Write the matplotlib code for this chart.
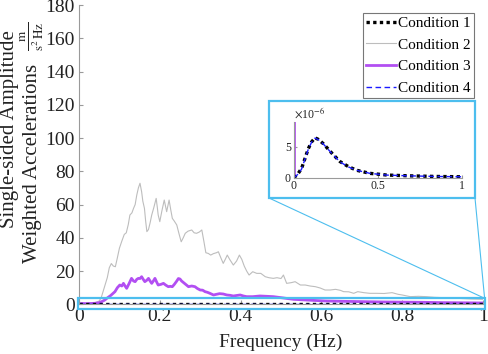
import matplotlib
matplotlib.use("Agg")
import matplotlib.pyplot as plt
from matplotlib.lines import Line2D
from matplotlib.patches import Rectangle
import numpy as np

plt.rcParams['font.family'] = ['Liberation Serif', 'DejaVu Serif']
plt.rcParams['mathtext.fontset'] = 'stix'

# ---------------- data ----------------
cond2_f = [0, 0.01, 0.02, 0.03, 0.04, 0.05, 0.055, 0.06, 0.065, 0.07, 0.075, 0.08, 0.085, 0.09, 0.095,
           0.10, 0.106, 0.112, 0.117, 0.122, 0.126, 0.131, 0.135, 0.139, 0.143, 0.147, 0.151, 0.155,
           0.158, 0.162, 0.165, 0.168, 0.172, 0.176, 0.18, 0.185, 0.191, 0.194, 0.196, 0.2, 0.205,
           0.211, 0.217, 0.223, 0.227, 0.231, 0.236, 0.242, 0.248, 0.253, 0.258, 0.263, 0.27, 0.279,
           0.285, 0.291, 0.298, 0.304, 0.309, 0.314, 0.32, 0.326, 0.333, 0.34, 0.345, 0.351, 0.357,
           0.362, 0.367, 0.373, 0.382, 0.39, 0.397, 0.403, 0.409, 0.415, 0.421, 0.43, 0.44, 0.45,
           0.461, 0.47, 0.481, 0.49, 0.5, 0.506, 0.514, 0.525, 0.535, 0.548, 0.56, 0.572, 0.585,
           0.597, 0.609, 0.622, 0.635, 0.647, 0.655, 0.668, 0.68, 0.69, 0.705, 0.72, 0.737, 0.755,
           0.775, 0.79, 0.8, 0.82, 0.84, 0.86, 0.88, 0.9, 0.92, 0.945, 0.97, 1.0]
cond2_v = [0, 0.3, 0.5, 0.7, 1.0, 2.0, 4, 8, 12, 16, 22, 24.5, 23, 22.6, 28,
           33.7, 38, 42, 43, 48, 53.7, 55, 57.7, 60, 65.7, 70, 72.8, 67.7,
           62, 57.7, 50, 43.7, 45, 49, 53.7, 58, 63.7, 58, 53.7, 49.7, 56,
           62.7, 55.7, 62.7, 57, 51.7, 50, 47.7, 42, 37.6, 40, 42.7, 44, 44.7,
           43, 42.7, 43.5, 44.7, 38, 31, 30.6, 29.6, 30.5, 31, 31.6, 28, 24.6,
           27, 29.6, 27, 23.6, 26, 29.6, 27, 23, 20, 17.6, 19.6, 18.6, 18.6,
           16.6, 16, 15.6, 16, 15.5, 17.6, 12.6, 13, 13.6, 11.6, 11.6, 11, 10.6,
           9.8, 8.6, 8.6, 9, 8.4, 7.6, 7.5, 6.6, 7.6, 7, 6.6, 6.6, 6.5,
           7, 6, 5.6, 4.6, 4.8, 4.6, 4.2, 4, 3.8, 3.5, 3.2, 3]

cond3_f = [0, 0.005, 0.02, 0.04, 0.05, 0.058, 0.064, 0.07, 0.078, 0.084, 0.089, 0.095, 0.101, 0.106,
           0.11, 0.114, 0.118, 0.124, 0.13, 0.135, 0.139, 0.143, 0.147, 0.151, 0.155, 0.159, 0.163,
           0.168, 0.172, 0.176, 0.18, 0.184, 0.188, 0.192, 0.196, 0.203, 0.209, 0.215, 0.221, 0.226,
           0.231, 0.236, 0.242, 0.246, 0.25, 0.254, 0.258, 0.264, 0.271, 0.279, 0.287, 0.293, 0.3,
           0.306, 0.312, 0.318, 0.324, 0.333, 0.34, 0.348, 0.357, 0.366, 0.374, 0.382, 0.39, 0.399,
           0.407, 0.415, 0.43, 0.448, 0.465, 0.481, 0.5, 0.515, 0.531, 0.56, 0.585, 0.61, 0.65,
           0.7, 0.75, 0.8, 0.85, 0.9, 0.95, 1.0]
cond3_v = [0, 0.5, 0.4, 0.6, 1.0, 1.8, 2.6, 3.8, 5.2, 6.5, 7.6, 10, 11.6, 11,
           12.6, 11, 9.6, 12.5, 15.6, 14, 13.6, 15, 15.6, 15.5, 16.6, 15, 13.6,
           14.5, 15.6, 14, 12.6, 14, 15.6, 13.5, 11.6, 12, 12.6, 11.5, 10.6, 10.8,
           10.6, 12, 14, 15.5, 15.2, 14, 13.2, 12, 10.6, 11, 10.6, 9.5, 8.6,
           8.5, 7.6, 7.2, 6.6, 5.6, 6, 6.4, 6.2, 5.6, 5.4, 5, 5.3, 5.6,
           5, 4.6, 4.6, 5, 4.8, 4.6, 4, 3.5, 3, 2.6, 2.3, 2, 1.8,
           1.6, 1.4, 1.3, 1.2, 1.0, 0.9, 0.8]

cond14_f = [0, 0.004, 0.027, 0.047, 0.067, 0.087, 0.107, 0.127, 0.146, 0.176, 0.206, 0.236,
            0.276, 0.325, 0.375, 0.454, 0.554, 0.69, 0.85, 1.0]
cond1_v = [0, 0.06, 0.7, 1.5, 3.1, 4.7, 5.8, 6.45, 6.2, 5.5, 4.6, 3.7,
           2.6, 1.8, 1.2, 0.7, 0.43, 0.3, 0.2, 0.15]   # x 1e-6
cond4_v = [0, 0.05, 0.6, 1.4, 3.0, 4.6, 5.75, 6.4, 6.15, 5.45, 4.55, 3.65,
           2.55, 1.75, 1.2, 0.7, 0.42, 0.3, 0.2, 0.15]  # x 1e-6

labels = ['Condition 1', 'Condition 2', 'Condition 3', 'Condition 4']
xticks = [0, 0.2, 0.4, 0.6, 0.8, 1]
xticklabels = ['0', '0.2', '0.4', '0.6', '0.8', '1']
yticks = list(range(0, 181, 20))
ylabel_line1 = 'Single-sided Amplitude'
ylabel_line2 = 'Weighted Accelerations'
ylabel_unit = '$\\frac{\\mathrm{m}}{\\mathrm{s}^{2}\\,\\mathrm{Hz}}$'

# ---------------- styles ----------------
c1 = '#000000'
c2 = '#bdbdbd'
c3 = '#b24ff2'
c4 = '#1a1aff'
cbox = '#4dbeee'
axcol = '#9a9a9a'
txtcol = '#222222'

c1v = np.array(cond1_v) * 1e-6
c4v = np.array(cond4_v) * 1e-6

W, H = 488, 354
fig = plt.figure(figsize=(W / 100, H / 100), dpi=100)
ax = fig.add_axes([79 / W, 1 - 304.3 / H, 404 / W, 299.3 / H])

def draw(a):
    l2, = a.plot(cond2_f, cond2_v, color=c2, lw=0.8)
    l3, = a.plot(cond3_f, cond3_v, color=c3, lw=2.0)
    l1, = a.plot(cond14_f, c1v, color=c1, lw=2.4, linestyle=(0, (1, 1)))
    l4, = a.plot(cond14_f, c4v, color=c4, lw=1.0, linestyle=(0, (4, 2.5)))
    return l1, l2, l3, l4

l1, l2, l3, l4 = draw(ax)
ax.set_xlim(0, 1)
ax.set_ylim(0, 180)
ax.set_xticks(xticks)
ax.set_xticklabels(xticklabels)
ax.set_yticks(yticks)
for s in ['top', 'right']:
    ax.spines[s].set_visible(False)
for s in ['left', 'bottom']:
    ax.spines[s].set_color(axcol)
    ax.spines[s].set_linewidth(0.8)
ax.tick_params(direction='in', length=3, color=axcol, labelsize=14, labelcolor=txtcol, pad=3)
ax.set_xlabel('Frequency (Hz)', fontsize=14, color=txtcol, labelpad=6)

# two-line y label (baseline-anchored)
fig.text(14 / W, 1 - 129 / H, ylabel_line1, rotation=90, rotation_mode='anchor',
         ha='center', va='baseline', fontsize=15, color=txtcol)
fig.text(37.5 / W, 1 - 163 / H, ylabel_line2, rotation=90, rotation_mode='anchor',
         ha='center', va='baseline', fontsize=15, color=txtcol)
fig.text(32 / W, 1 - 36 / H, ylabel_unit, rotation=90, ha='center', va='center',
         fontsize=13.5, color=txtcol)

leg = ax.legend([l1, l2, l3, l4], labels, loc='upper right', bbox_to_anchor=(0.978, 0.973),
                borderaxespad=0, fontsize=11, frameon=True, fancybox=False,
                handlelength=1.95, handletextpad=0.15, labelspacing=0.52, borderpad=0.22)
leg.get_frame().set_edgecolor('#777777')
leg.get_frame().set_linewidth(0.8)
leg.get_frame().set_alpha(1)

# zoom rectangle on main axes
rx0, rx1, ry0, ry1 = -0.003, 1.004, -3.1, 3.6
rect = Rectangle((rx0, ry0), rx1 - rx0, ry1 - ry0, fill=False, edgecolor=cbox, lw=1.6,
                 clip_on=False, zorder=5)
ax.add_patch(rect)

# inset
axin = fig.add_axes([293.7 / W, 1 - 177.7 / H, 168 / W, 55.7 / H])
draw(axin)
axin.set_xlim(0, 1)
axin.set_ylim(0, 9e-6)
axin.set_xticks([0, 0.5, 1])
axin.set_xticklabels(['0', '0.5', '1'])
axin.set_yticks([0, 5e-6])
axin.set_yticklabels(['0', '5'])
for s in ['top', 'right']:
    axin.spines[s].set_visible(False)
for s in ['left', 'bottom']:
    axin.spines[s].set_color(axcol)
    axin.spines[s].set_linewidth(0.8)
axin.tick_params(direction='in', length=2, color=axcol, labelsize=8.5, labelcolor=txtcol, pad=2)
axin.text(0.0, 1.02, '$\\times$10$^{-6}$', transform=axin.transAxes, fontsize=8.5,
          color=txtcol, ha='left', va='bottom')

# inset frame (figure coords)
fx0, fx1, fy0, fy1 = 269 / W, 475 / W, 1 - 198 / H, 1 - 101 / H
frame = Rectangle((fx0, fy0), fx1 - fx0, fy1 - fy0, transform=fig.transFigure, fill=False,
                  edgecolor=cbox, lw=1.6, zorder=10)
fig.add_artist(frame)

# connector lines
px, py = ax.transData.transform((rx1, ry1))
tx, ty = fig.transFigure.inverted().transform((px, py))
fig.add_artist(Line2D([fx0, tx], [fy0, ty], transform=fig.transFigure, color=cbox, lw=0.8))
fig.add_artist(Line2D([fx1, tx], [fy0, ty], transform=fig.transFigure, color=cbox, lw=0.8))

fig.savefig('out.png', dpi=100)
